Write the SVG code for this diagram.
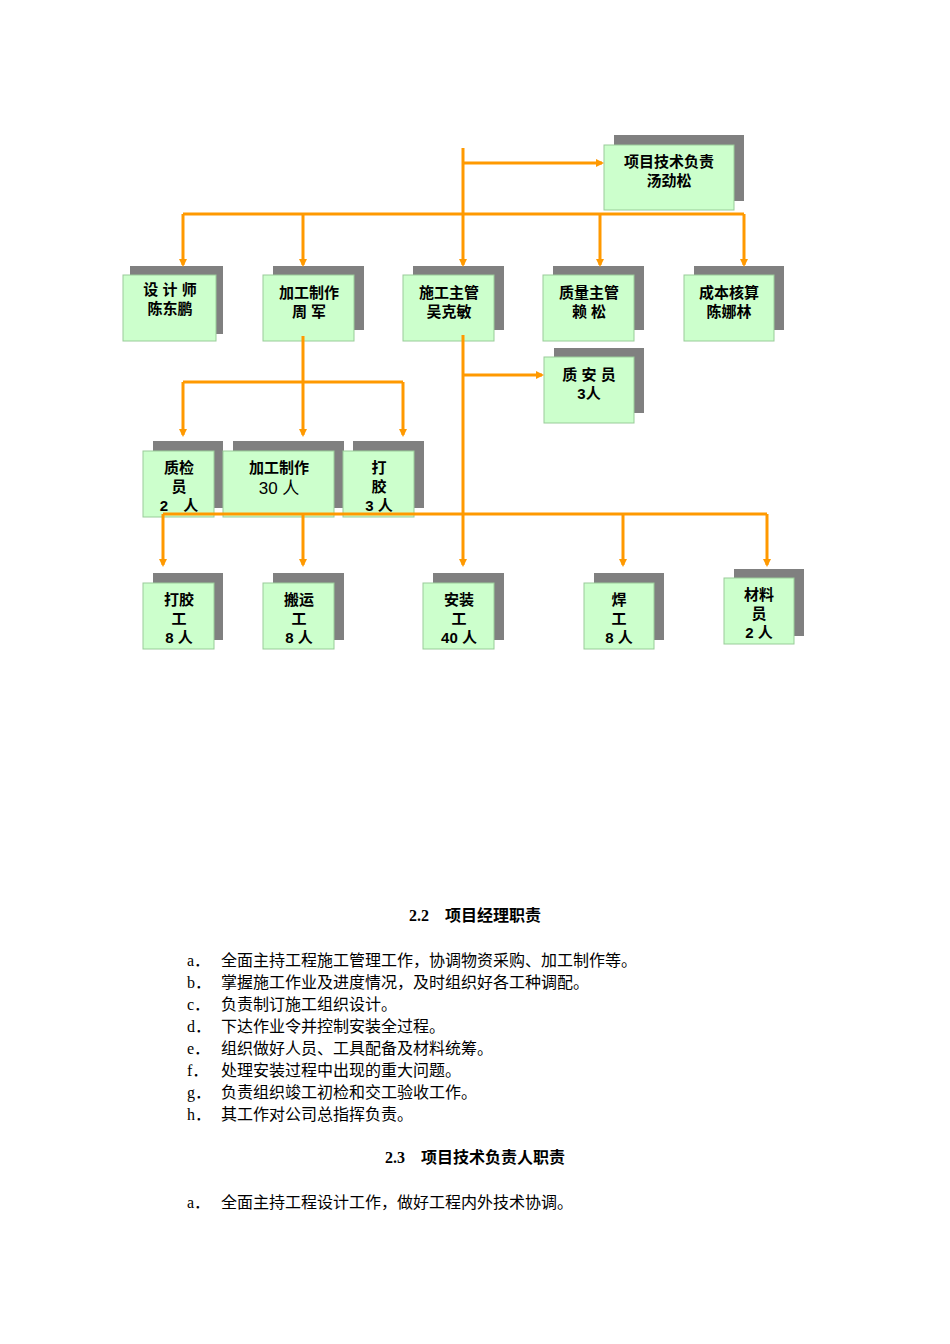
<svg xmlns="http://www.w3.org/2000/svg" width="950" height="1344" viewBox="0 0 950 1344">
<defs>
<style>
.sh{fill:#808080}
.bx{fill:#ccffcc;stroke:#99cc99;stroke-width:1}
.t{font-family:"Liberation Sans","Noto Sans CJK SC",sans-serif;font-size:15px;font-weight:bold;fill:#000;text-anchor:middle}
.c{stroke:#ff9900;stroke-width:3;fill:none}
.a{stroke:#ff9900;stroke-width:3;fill:none;marker-end:url(#ar)}
.b{font-family:"Liberation Serif","Noto Sans CJK SC",serif;font-size:16px;fill:#000}
.h{font-family:"Liberation Serif","Noto Sans CJK SC",serif;font-size:16px;font-weight:bold;fill:#000;text-anchor:middle}
</style>
<marker id="ar" markerWidth="8" markerHeight="8" refX="6" refY="4" orient="auto" markerUnits="userSpaceOnUse" viewBox="0 0 8 8"><path d="M0,0 L8,4 L0,8 z" fill="#ff9900"/></marker>
</defs>
<rect width="950" height="1344" fill="#fff"/>
<g id="n_tech"><rect class="sh" x="614" y="135" width="130" height="66"/><rect class="bx" x="604" y="145" width="130" height="65"/><text class="t" x="669" y="167">项目技术负责</text><text class="t" x="669" y="186">汤劲松</text></g>
<g id="n_design"><rect class="sh" x="130" y="266" width="93" height="68"/><rect class="bx" x="123" y="275" width="93" height="66"/><text class="t" x="170" y="295">设 计 师</text><text class="t" x="170" y="314">陈东鹏</text></g>
<g id="n_proc"><rect class="sh" x="273" y="266" width="91" height="64"/><rect class="bx" x="263" y="275" width="91" height="66"/><text class="t" x="309" y="298">加工制作</text><text class="t" x="309" y="317">周 军</text></g>
<g id="n_cons"><rect class="sh" x="413" y="266" width="91" height="64"/><rect class="bx" x="403" y="275" width="91" height="66"/><text class="t" x="449" y="298">施工主管</text><text class="t" x="449" y="317">吴克敏</text></g>
<g id="n_qual"><rect class="sh" x="553" y="266" width="91" height="64"/><rect class="bx" x="543" y="275" width="91" height="66"/><text class="t" x="589" y="298">质量主管</text><text class="t" x="589" y="317">赖 松</text></g>
<g id="n_cost"><rect class="sh" x="694" y="266" width="90" height="64"/><rect class="bx" x="684" y="275" width="90" height="66"/><text class="t" x="729" y="298">成本核算</text><text class="t" x="729" y="317">陈娜林</text></g>
<g id="n_qs"><rect class="sh" x="554" y="348" width="90" height="65"/><rect class="bx" x="544" y="357" width="90" height="66"/><text class="t" x="589" y="380">质 安 员</text><text class="t" x="589" y="399">3人</text></g>
<g id="n_qc"><rect class="sh" x="153" y="441" width="70" height="67"/><rect class="bx" x="143" y="451" width="71" height="66"/><text class="t" x="179" y="473">质检</text><text class="t" x="179" y="492">员</text><text class="t" x="179" y="511">2　人</text></g>
<g id="n_pw"><rect class="sh" x="233" y="441" width="111" height="67"/><rect class="bx" x="223" y="451" width="111" height="66"/><text class="t" x="279" y="473">加工制作</text><text class="t" x="279" y="494" style="font-weight:normal;font-size:17px">30 人</text></g>
<g id="n_glue"><rect class="sh" x="353" y="441" width="71" height="67"/><rect class="bx" x="343" y="451" width="71" height="66"/><text class="t" x="379" y="473">打</text><text class="t" x="379" y="492">胶</text><text class="t" x="379" y="511">3 人</text></g>
<g id="n_gw"><rect class="sh" x="153" y="573" width="70" height="67"/><rect class="bx" x="143" y="583" width="71" height="66"/><text class="t" x="179" y="605">打胶</text><text class="t" x="179" y="624">工</text><text class="t" x="179" y="643">8 人</text></g>
<g id="n_carry"><rect class="sh" x="273" y="573" width="71" height="67"/><rect class="bx" x="263" y="583" width="71" height="66"/><text class="t" x="299" y="605">搬运</text><text class="t" x="299" y="624">工</text><text class="t" x="299" y="643">8 人</text></g>
<g id="n_inst"><rect class="sh" x="433" y="573" width="71" height="67"/><rect class="bx" x="423" y="583" width="71" height="66"/><text class="t" x="459" y="605">安装</text><text class="t" x="459" y="624">工</text><text class="t" x="459" y="643">40 人</text></g>
<g id="n_weld"><rect class="sh" x="594" y="573" width="70" height="67"/><rect class="bx" x="584" y="583" width="70" height="66"/><text class="t" x="619" y="605">焊</text><text class="t" x="619" y="624">工</text><text class="t" x="619" y="643">8 人</text></g>
<g id="n_mat"><rect class="sh" x="734" y="569" width="70" height="67"/><rect class="bx" x="724" y="578" width="70" height="66"/><text class="t" x="759" y="600">材料</text><text class="t" x="759" y="619">员</text><text class="t" x="759" y="638">2 人</text></g>
<g id="connectors">
<path class="c" d="M463,148 V214 M183,214 H744 M303,336 V382 M183,382 H403 M463,335 V514 M163,514 H767"/>
<path class="a" d="M463,163 H602"/>
<path class="a" d="M183,214 V265"/><path class="a" d="M303,214 V265"/><path class="a" d="M463,214 V265"/><path class="a" d="M600,214 V265"/><path class="a" d="M744,214 V265"/>
<path class="a" d="M183,382 V435"/><path class="a" d="M303,382 V435"/><path class="a" d="M403,382 V435"/>
<path class="a" d="M463,375 H542"/>
<path class="a" d="M163,514 V565"/><path class="a" d="M303,514 V565"/><path class="a" d="M463,514 V565"/><path class="a" d="M623,514 V565"/><path class="a" d="M767,514 V565"/>
</g>
<text class="h" x="475" y="921">2.2　项目经理职责</text>
<g class="b">
<text x="187" y="966">a．<tspan x="221">全面主持工程施工管理工作，协调物资采购、加工制作等。</tspan></text>
<text x="187" y="988">b．<tspan x="221">掌握施工作业及进度情况，及时组织好各工种调配。</tspan></text>
<text x="187" y="1010">c．<tspan x="221">负责制订施工组织设计。</tspan></text>
<text x="187" y="1032">d．<tspan x="221">下达作业令并控制安装全过程。</tspan></text>
<text x="187" y="1054">e．<tspan x="221">组织做好人员、工具配备及材料统筹。</tspan></text>
<text x="187" y="1076">f．<tspan x="221">处理安装过程中出现的重大问题。</tspan></text>
<text x="187" y="1098">g．<tspan x="221">负责组织竣工初检和交工验收工作。</tspan></text>
<text x="187" y="1120">h．<tspan x="221">其工作对公司总指挥负责。</tspan></text>
<text x="187" y="1208">a．<tspan x="221">全面主持工程设计工作，做好工程内外技术协调。</tspan></text>
</g>
<text class="h" x="475" y="1163">2.3　项目技术负责人职责</text>
</svg>
